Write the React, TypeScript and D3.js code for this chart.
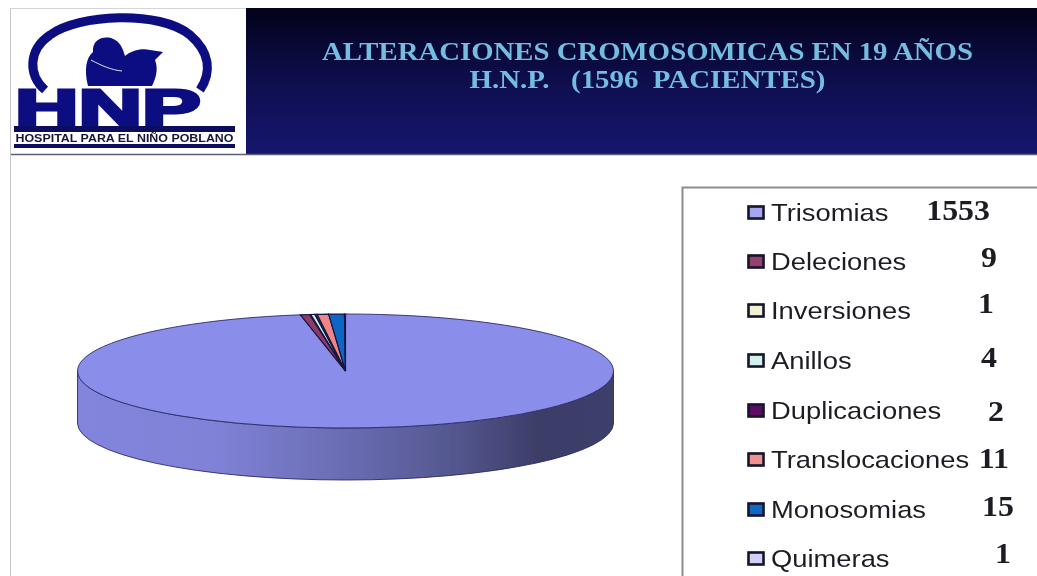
import React from "react";
import * as d3 from "d3";

const categories = ["Trisomias", "Deleciones", "Inversiones", "Anillos", "Duplicaciones", "Translocaciones", "Monosomias", "Quimeras"];
const values = [1553, 9, 1, 4, 2, 11, 15, 1];
const valueLabels = ["1553", "9", "1", "4", "2", "11", "15", "1"];
const titleLines = ["ALTERACIONES CROMOSOMICAS EN 19 AÑOS", "H.N.P.   (1596  PACIENTES)"];

const colors = ["#8b8dea", "#8f3a68", "#ecebc4", "#c9ece8", "#5c1063", "#ef8585", "#0d66c6", "#c9c9f2"];
const swatchColors = ["#a6a6f0", "#96406e", "#f2f1d2", "#d4f0ec", "#5c1063", "#f09090", "#1068c8", "#d0d0f4"];
const labelBaselines = [221, 270, 319, 369, 419, 468, 518, 567];
const valueBaselines = [220, 267, 313, 367, 421, 468, 516, 563];
const valueRightEdges = [990, 997, 994, 997, 1004, 1009, 1014, 1011];

const W = 1037, H = 576;
const cx = 345.5, cy = 371, rx = 268, ry = 57, depth = 52;
const navy = "#0a0a82";

export default function App() {
  const pie = d3.pie<number>().sort(null).startAngle(0).endAngle(2 * Math.PI);
  const arcs = pie(values);
  const arc = d3.arc<d3.PieArcDatum<number>>().innerRadius(0).outerRadius(rx);
  const wall = `M${cx - rx},${cy} V${cy + depth} A${rx},${ry} 0 0 0 ${cx + rx},${cy + depth} V${cy} A${rx},${ry} 0 0 1 ${cx - rx},${cy} Z`;

  return (
    <svg width={W} height={H} viewBox={`0 0 ${W} ${H}`} style={{ position: "absolute", left: 0, top: 0, background: "#fff" }}>
      <defs>
        <linearGradient id="hdr" x1="0" x2="0" y1="0" y2="1">
          <stop offset="0" stopColor="#02021a" />
          <stop offset="0.5" stopColor="#0e0e4e" />
          <stop offset="1" stopColor="#16166e" />
        </linearGradient>
        <linearGradient id="wall" x1="0" x2="1" y1="0" y2="0">
          <stop offset="0" stopColor="#8385dc" />
          <stop offset="0.25" stopColor="#8082d8" />
          <stop offset="0.5" stopColor="#6a6cb2" />
          <stop offset="0.7" stopColor="#555790" />
          <stop offset="0.86" stopColor="#3c3d68" />
          <stop offset="1" stopColor="#3e3f6a" />
        </linearGradient>
        <filter id="soft" x="-5%" y="-5%" width="110%" height="110%">
          <feGaussianBlur stdDeviation="0.7" />
        </filter>
        <filter id="softer" x="-5%" y="-20%" width="110%" height="140%">
          <feGaussianBlur stdDeviation="0.45" />
        </filter>
      </defs>

      {/* slide frame */}
      <rect x={246} y={8} width={W - 246} height={146} fill="url(#hdr)" />
      <line x1={10} x2={W} y1={154.5} y2={154.5} stroke="#5a5f78" strokeWidth={1.6} />
      <line x1={10.5} x2={10.5} y1={8} y2={H} stroke="#c4c6cc" strokeWidth={1} />
      <line x1={10} x2={246} y1={8.5} y2={8.5} stroke="#d4d5da" strokeWidth={1} />

      {/* logo */}
      <g filter="url(#soft)">
        <path d="M45,90 C28,75 28,50 50,35 C78,14 160,10 190,35 C210,52 212,72 200,90" fill="none" stroke={navy} strokeWidth={9} />
        <path d="M88,86 C84,70 86,58 93,52 C92,40 102,36 111,38 C121,41 123,50 125,56 C132,50 142,48 150,50 L163,52 L155,60 C159,70 155,80 152,86 Z" fill={navy} />
        <path d="M91,60 C102,66 112,70 122,71" fill="none" stroke="#dfe0f0" strokeWidth={1} />
        <text transform="translate(15,125) scale(1.76,1)" fontFamily="Liberation Sans" fontWeight={700} fontSize={50} fill={navy} stroke={navy} strokeWidth={3}>HNP</text>
        <rect x={14} y={126} width={221} height={6} fill="#0a0a60" />
        <rect x={14} y={144} width={221} height={4} fill="#0a0a60" />
        <text x={124.5} y={142} textAnchor="middle" textLength={218} lengthAdjust="spacingAndGlyphs" fontFamily="Liberation Sans" fontWeight={700} fontSize={10} fill="#14143c">HOSPITAL PARA EL NIÑO POBLANO</text>
      </g>

      {/* title */}
      <g filter="url(#softer)" fontFamily="Liberation Serif" fontWeight={700} fill="#74bde0" textAnchor="middle">
        <text x={647.5} y={60} fontSize={25} textLength={651} lengthAdjust="spacingAndGlyphs" xmlSpace="preserve">{titleLines[0]}</text>
        <text x={647.5} y={88} fontSize={25} textLength={356} lengthAdjust="spacingAndGlyphs" xmlSpace="preserve">{titleLines[1]}</text>
      </g>

      {/* 3D pie */}
      <g filter="url(#softer)">
        <path d={wall} fill="url(#wall)" stroke="#2b2b68" strokeWidth={0.9} />
        <g transform={`translate(${cx},${cy}) scale(1,${ry / rx})`}>
          {arcs.map((a, i) => (
            <path key={categories[i]} d={arc(a) ?? ""} fill={colors[i]} stroke={i === 0 ? "#2b2b68" : "#14143f"} strokeWidth={i === 0 ? 0.9 : 1.2} vectorEffect="non-scaling-stroke" />
          ))}
        </g>
      </g>

      {/* legend */}
      <path d={`M${W},187.5 H682.5 V${H}`} fill="none" stroke="#8d8d8d" strokeWidth={2} />
      <g filter="url(#softer)">
        {categories.map((c, i) => (
          <g key={c}>
            <rect x={748.5} y={labelBaselines[i] - 14.5} width={15} height={12} fill={swatchColors[i]} stroke="#14142c" strokeWidth={2.6} />
            <text transform={`translate(771,${labelBaselines[i]}) scale(1.14,1)`} fontFamily="Liberation Sans" fontSize={24} fill="#1d1d24">{c}</text>
            <text transform={`translate(${valueRightEdges[i]},${valueBaselines[i]}) scale(1.1,1)`} textAnchor="end" fontFamily="Liberation Serif" fontWeight={700} fontSize={29} fill="#1a1a20">{valueLabels[i]}</text>
          </g>
        ))}
      </g>
    </svg>
  );
}
